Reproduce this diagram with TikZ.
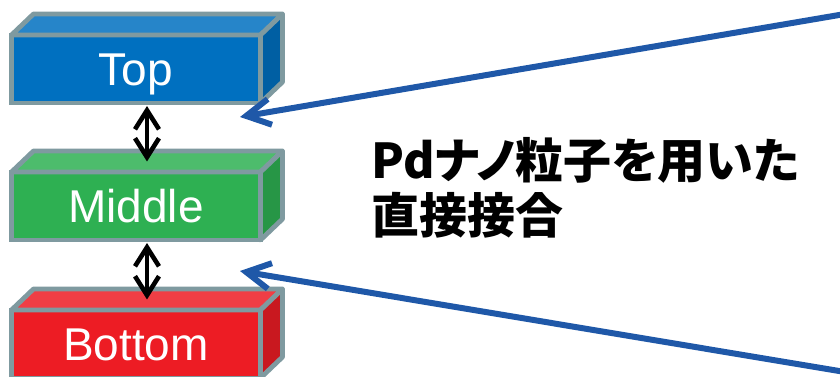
\documentclass[tikz,border=0pt]{standalone}
\usepackage{fontspec}
\setmainfont{Liberation Sans}
\newfontfamily\jpfont[RawFeature=+palt]{Noto Sans CJK JP}
\usetikzlibrary{arrows.meta}

\definecolor{layerBlue}{RGB}{0,112,192}
\definecolor{layerGreen}{RGB}{46,176,82}
\definecolor{layerRed}{RGB}{237,28,36}
\definecolor{edgeGray}{RGB}{127,154,160}
\definecolor{linkBlue}{RGB}{31,88,168}

\begin{document}
\begin{tikzpicture}
[x=1pt,y=1pt,%
  boxFront/.style={rectangle,draw=edgeGray,line width=4.8pt,minimum width=249pt,minimum height=68pt,%
    inner sep=0pt,outer sep=0pt,text=white,text height=33pt,text depth=0pt,font=\fontsize{46}{46}\selectfont},%
  boxEdge/.style={draw=edgeGray,line width=4.8pt,line join=round},%
  twoWay/.style={{Straight Barb[length=19pt,width=24pt]}-{Straight Barb[length=19pt,width=24pt]},line width=4.6pt},%
  linkArrow/.style={-{Straight Barb[length=24pt,width=26pt]},draw=linkBlue,line width=6pt},%
  caption/.style={inner sep=0pt,font=\jpfont\bfseries\fontsize{48}{52}\selectfont}]
\useasboundingbox (0,0) rectangle (840,377);
%% layers as boxes
\foreach \boxname/\y/\boxtext/\boxcolor in {top/308/Top/layerBlue, middle/171/Middle/layerGreen, bottom/33/Bottom/layerRed}
{
  \node (\boxname) at (136,\y) [boxFront,fill=\boxcolor] {\boxtext};
  \draw[boxEdge,fill=\boxcolor!85!white] (\boxname.north west) -- ++(22,21)
    -- ([shift={(22,21)}]\boxname.north east) -- (\boxname.north east) -- cycle;
  \draw[boxEdge,fill=\boxcolor!85!black] (\boxname.north east) -- ++(22,21)
    -- ([shift={(22,21)}]\boxname.south east) -- (\boxname.south east) -- cycle;
}
%% arrows between layers
\draw[twoWay] ([shift={(11,-3)}]top.south) -- ([shift={(11,10.5)}]middle.north);
\draw[twoWay] ([shift={(11,-3)}]middle.south) -- ([shift={(11,10.5)}]bottom.north);
%% bonding text
\node[caption,anchor=base west] (joinLine) at (371,198) {Pdナノ粒子を用いた};
\node[caption,anchor=base west] (joinLineB) at ([yshift=-55]joinLine.base west) {直接接合};
%% long links
\coordinate (upperFar) at (845,363);
\coordinate (upperTip) at (240,260);
\coordinate (lowerFar) at (845,5);
\coordinate (lowerTip) at (240,106);
\draw[linkArrow] (upperFar) -- (upperTip);
\draw[linkArrow] (lowerFar) -- (lowerTip);
\end{tikzpicture}
\end{document}
